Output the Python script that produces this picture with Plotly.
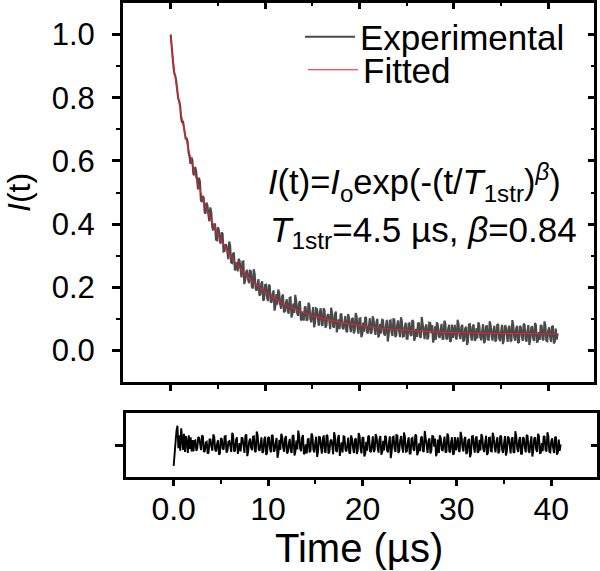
import plotly.graph_objects as go

t_step = 0.1
exp_vals = [
    1.000, 0.956, 0.939, 0.897, 0.875, 0.869, 0.850, 0.811, 0.797, 0.791,
    0.775, 0.738, 0.721, 0.727, 0.710, 0.681, 0.668, 0.673, 0.659, 0.625, 0.614,
    .591, .611, .602, .559, .555, .581, .567, .526, .510, .547, .534, .476, .470, .489, .483, .438, .433, .468, .458, .429,
    .409, .453, .438, .391, .380, .397, .402, .351, .349, .390, .382, .346, .338, .374, .370, .313, .314, .336, .333, .313,
    .289, .345, .333, .279, .277, .305, .310, .253, .265, .279, .250, .290, .284, .243, .231, .281, .282, .210, .223, .249,
    .255, .225, .213, .252, .250, .201, .196, .257, .242, .196, .189, .207, .226, .174, .177, .212, .218, .158, .162, .207,
    .208, .171, .156, .208, .204, .152, .154, .178, .190, .126, .140, .178, .145, .193, .182, .146, .132, .171, .177, .121,
    .124, .149, .162, .125, .116, .167, .168, .104, .116, .148, .119, .176, .157, .118, .109, .149, .156, .095, .099, .123,
    .094, .136, .139, .094, .098, .151, .143, .099, .089, .118, .137, .073, .089, .133, .131, .100, .078, .123, .133, .082,
    .078, .133, .128, .072, .078, .110, .115, .095, .067, .135, .120, .076, .072, .114, .123, .057, .074, .098, .067, .116,
    .114, .073, .067, .091, .109, .062, .058, .115, .103, .075, .058, .099, .103, .054, .063, .118, .108, .068, .053, .101,
    .102, .042, .051, .088, .059, .103, .106, .057, .054, .076, .102, .053, .058, .108, .099, .066, .049, .090, .100, .041,
    .050, .084, .054, .099, .095, .054, .047, .076, .097, .028, .049, .093, .095, .057, .046, .099, .098, .042, .048, .082,
    .095, .062, .042, .105, .092, .044, .045, .074, .088, .037, .037, .084, .086, .051, .046, .096, .092, .031, .040, .068,
    .043, .085, .088, .044, .040, .106, .086, .051, .036, .075, .082, .035, .042, .088, .087, .055, .080, .025, .036, .076,
    .034, .089, .081, .045, .040, .066, .084, .035, .037, .094, .086, .038, .035, .068, .081, .027, .031, .082, .040, .060,
    .081, .040, .035, .097, .083, .047, .036, .075, .081, .028, .033, .069, .075, .017, .029, .082, .083, .049, .031, .076,
    .082, .031, .034, .071, .038, .089, .080, .042, .032, .061, .083, .023, .030, .076, .077, .035, .034, .092, .080, .046,
    .031, .066, .078, .028, .034, .083, .081, .039, .029, .057, .081, .020, .032, .079, .076, .051, .027, .071, .078, .031,
    .029, .096, .079, .042, .031, .068, .078, .024, .026, .077, .074, .046, .030, .085, .081, .035, .028, .062, .080, .017,
    .034, .072, .076, .039, .030, .087, .080, .027, .028, .058, .033, .080, .078, .036, .032, .092, .079, .031, .029, .063,
    .073, .044, .027, .075, .078, .022, .028, .069, .034, .054,
]
t_exp = [round(i * t_step, 1) for i in range(len(exp_vals))]

t_fit = [0, 0.25, 0.5, 0.75, 1, 1.5, 2, 2.5, 3, 3.5, 4, 5, 6, 7, 8, 9, 10,
         12, 14, 16, 18, 20, 22, 25, 28, 31, 34, 37, 41]
fit_vals = [1.000, 0.920, 0.861, 0.811, 0.766, 0.689, 0.623, 0.566, 0.517,
            0.473, 0.434, 0.369, 0.316, 0.273, 0.238, 0.209, 0.185,
            0.147, 0.121, 0.102, 0.089, 0.079, 0.071, 0.064, 0.059, 0.056,
            0.054, 0.053, 0.052]

res_vals = [
    -.065, -.020, .015, .045, .060, -.010, .030, -.018, .052, .012,
    -.015, .035, -.022, .028, .010, -.025, .030, -.012, .024, -.020, .015,
    -.020, .012, .014, -.018, -.011, .025, .022, -.009, -.016, .030, .027, -.022, -.019, .008, .010, -.027, -.024, .019, .017, -.005,
    -.018, .033, .025, -.015, -.020, .004, .015, -.030, -.026, .021, .019, -.012, -.014, .027, .028, -.024, -.017, .010, .012, -.003,
    -.022, .038, .030, -.020, -.018, .015, .024, -.028, -.012, .006, -.020, .024, .021, -.016, -.025, .029, .033, -.035, -.019, .011,
    .020, -.007, -.016, .026, .027, -.019, -.022, .042, .030, -.013, -.018, .003, .024, -.025, -.020, .018, .026, -.031, -.025, .022,
    .025, -.010, -.023, .031, .029, -.021, -.017, .009, .022, -.040, -.024, .016, -.015, .035, .026, -.008, -.021, .020, .028, -.026,
    -.022, .005, .019, -.017, -.025, .028, .030, -.033, -.020, .014, -.014, .045, .027, -.011, -.019, .023, .031, -.029, -.024, .002,
    -.026, .017, .021, -.023, -.018, .036, .029, -.014, -.023, .007, .026, -.037, -.020, .025, .024, -.006, -.027, .019, .030, -.020,
    -.024, .032, .028, -.027, -.021, .012, .017, -.002, -.029, .040, .025, -.018, -.022, .021, .031, -.034, -.017, .008, -.023, .027,
    .026, -.015, -.020, .004, .023, -.024, -.027, .030, .019, -.009, -.025, .016, .021, -.028, -.018, .037, .028, -.012, -.026, .022,
    .024, -.036, -.027, .010, -.018, .026, .029, -.019, -.022, .001, .027, -.022, -.016, .034, .025, -.007, -.024, .018, .028, -.030,
    -.021, .013, -.017, .029, .025, -.016, -.023, .006, .027, -.041, -.020, .024, .026, -.011, -.022, .031, .030, -.025, -.019, .015,
    .028, -.004, -.024, .039, .026, -.021, -.020, .009, .024, -.027, -.027, .020, .022, -.013, -.018, .033, .029, -.032, -.023, .005,
    -.019, .023, .026, -.018, -.022, .044, .024, -.010, -.025, .014, .021, -.026, -.018, .028, .027, -.005, .020, -.035, -.024, .017,
    -.025, .030, .022, -.014, -.019, .008, .026, -.023, -.021, .036, .028, -.020, -.023, .011, .024, -.030, -.026, .025, -.017, .003,
    .024, -.017, -.022, .041, .027, -.009, -.020, .019, .025, -.028, -.023, .013, .019, -.038, -.026, .027, .028, -.006, -.024, .021,
    .027, -.024, -.021, .016, -.017, .034, .025, -.012, -.022, .007, .029, -.031, -.024, .022, .023, -.019, -.020, .038, .026, -.008,
    -.023, .012, .024, -.026, -.020, .029, .027, -.015, -.025, .004, .028, -.033, -.021, .026, .023, -.002, -.026, .018, .025, -.022,
    -.024, .043, .026, -.011, -.022, .015, .025, -.029, -.027, .024, .021, -.007, -.023, .032, .028, -.018, -.025, .009, .027, -.036,
    -.018, .020, .024, -.013, -.022, .035, .028, -.025, -.024, .006, -.019, .028, .026, -.016, -.020, .040, .027, -.021, -.023, .011,
    .021, -.008, -.025, .023, .026, -.030, -.024, .017, -.018, .002,
]
t_res = [round(i * t_step, 1) for i in range(len(res_vals))]

x_ticks = [0, 10, 20, 30, 40]
x_ticktext = ["0.0", "10", "20", "30", "40"]
x_minor = [5, 15, 25, 35]
y_ticks = [0.0, 0.2, 0.4, 0.6, 0.8, 1.0]
y_ticktext = ["0.0", "0.2", "0.4", "0.6", "0.8", "1.0"]
y_minor = [0.1, 0.3, 0.5, 0.7, 0.9]

FONT = "Liberation Sans, Arial, sans-serif"
XR = [-5.05, 44.85]

W, H = 600, 571


def px(x):
    return x / W


def py(y):
    return 1 - y / H


fig = go.Figure()
fig.add_trace(go.Scatter(x=t_exp, y=exp_vals, mode="lines", name="Experimental",
                         line=dict(color="#4a4a4a", width=2.1), xaxis="x", yaxis="y",
                         legend="legend"))
fig.add_trace(go.Scatter(x=t_fit, y=fit_vals, mode="lines", name="Fitted",
                         line=dict(color="#e8202a", width=1.2, shape="spline"),
                         xaxis="x", yaxis="y", legend="legend2"))
fig.add_trace(go.Scatter(x=t_res, y=res_vals, mode="lines", showlegend=False,
                         line=dict(color="black", width=1.9), xaxis="x2", yaxis="y2"))
# empty traces so the mirrored frame axes are drawn
fig.add_trace(go.Scatter(x=[], y=[], xaxis="x3", yaxis="y3", showlegend=False))
fig.add_trace(go.Scatter(x=[], y=[], xaxis="x2", yaxis="y4", showlegend=False))

axis_common = dict(showline=True, linewidth=3, linecolor="black", showgrid=False,
                   zeroline=False, tickcolor="black", tickwidth=3)

top_dom_x = [px(123), px(594)]
top_dom_y = [py(382), py(3)]
bot_dom_x = [px(126), px(597)]
bot_dom_y = [py(477), py(413)]

fig.update_layout(
    width=W, height=H,
    margin=dict(l=0, r=0, t=0, b=0),
    paper_bgcolor="white", plot_bgcolor="white",
    font=dict(family=FONT, color="black"),
    xaxis=dict(domain=top_dom_x, range=XR, anchor="y", ticks="outside", ticklen=6,
               tickvals=x_ticks, showticklabels=False,
               minor=dict(tickvals=x_minor, ticks="outside", ticklen=4, tickwidth=2,
                          tickcolor="black"),
               **axis_common),
    xaxis3=dict(overlaying="x", side="top", anchor="y", range=XR, ticks="inside",
                ticklen=6, tickvals=x_ticks, showticklabels=False,
                minor=dict(tickvals=x_minor, ticks="inside", ticklen=3, tickwidth=2,
                           tickcolor="black"),
                **axis_common),
    yaxis=dict(domain=top_dom_y, range=[-0.1, 1.1], anchor="x", ticks="outside",
               ticklen=8, tickvals=y_ticks, ticktext=y_ticktext,
               tickfont=dict(size=31, family=FONT), ticklabelstandoff=11,
               minor=dict(tickvals=y_minor, ticks="outside", ticklen=4, tickwidth=2,
                          tickcolor="black"),
               **axis_common),
    yaxis3=dict(overlaying="y", side="right", anchor="x", range=[-0.1, 1.1],
                ticks="inside", ticklen=6, tickvals=y_ticks, showticklabels=False,
                minor=dict(tickvals=y_minor, ticks="inside", ticklen=3, tickwidth=2,
                           tickcolor="black"),
                **axis_common),
    xaxis2=dict(domain=bot_dom_x, range=XR, anchor="y2", ticks="outside", ticklen=6,
                tickvals=x_ticks, ticktext=x_ticktext, mirror=True,
                tickfont=dict(size=32, family=FONT), ticklabelstandoff=-4,
                minor=dict(tickvals=x_minor, ticks="outside", ticklen=4, tickwidth=2,
                           tickcolor="black"),
                **axis_common),
    yaxis2=dict(domain=bot_dom_y, range=[-0.1, 0.1], anchor="x2", ticks="outside",
                ticklen=8, tickvals=[0], showticklabels=False, **axis_common),
    yaxis4=dict(overlaying="y2", side="right", anchor="x2", range=[-0.1, 0.1],
                ticks="inside", ticklen=6, tickvals=[0], showticklabels=False,
                **axis_common),
    legend=dict(x=px(300), y=py(37), xanchor="left", yanchor="middle",
                bgcolor="rgba(0,0,0,0)", borderwidth=0, itemwidth=50,
                font=dict(size=35, family=FONT)),
    legend2=dict(x=px(303), y=py(70), xanchor="left", yanchor="middle",
                 bgcolor="rgba(0,0,0,0)", borderwidth=0, itemwidth=50,
                 font=dict(size=35, family=FONT)),
    annotations=[
        dict(text="<i>I</i>(t)", x=px(19), y=py(193), xref="paper", yref="paper",
             textangle=-90, showarrow=False, font=dict(size=32, family=FONT),
             xanchor="center", yanchor="middle"),
        dict(text="Time (µs)", x=px(359), y=py(548), xref="paper", yref="paper",
             showarrow=False, font=dict(size=40, family=FONT),
             xanchor="center", yanchor="middle"),
        dict(text="<i>I</i>(t)=<i>I</i><sub>o</sub>exp(-(t/<i>T</i><sub>1str</sub>)<sup><i>β</i></sup>)",
             x=px(266), y=py(182), xref="paper", yref="paper", showarrow=False,
             font=dict(size=34.5, family=FONT), xanchor="left", yanchor="middle"),
        dict(text="<i>T</i><sub>1str</sub>=4.5 µs, <i>β</i>=0.84",
             x=px(268), y=py(232), xref="paper", yref="paper", showarrow=False,
             font=dict(size=35, family=FONT), xanchor="left", yanchor="middle"),
    ],
)

fig.write_html("out.html", config={"displayModeBar": False},
               post_script="document.body.style.margin='0';document.body.style.overflow='hidden';")
